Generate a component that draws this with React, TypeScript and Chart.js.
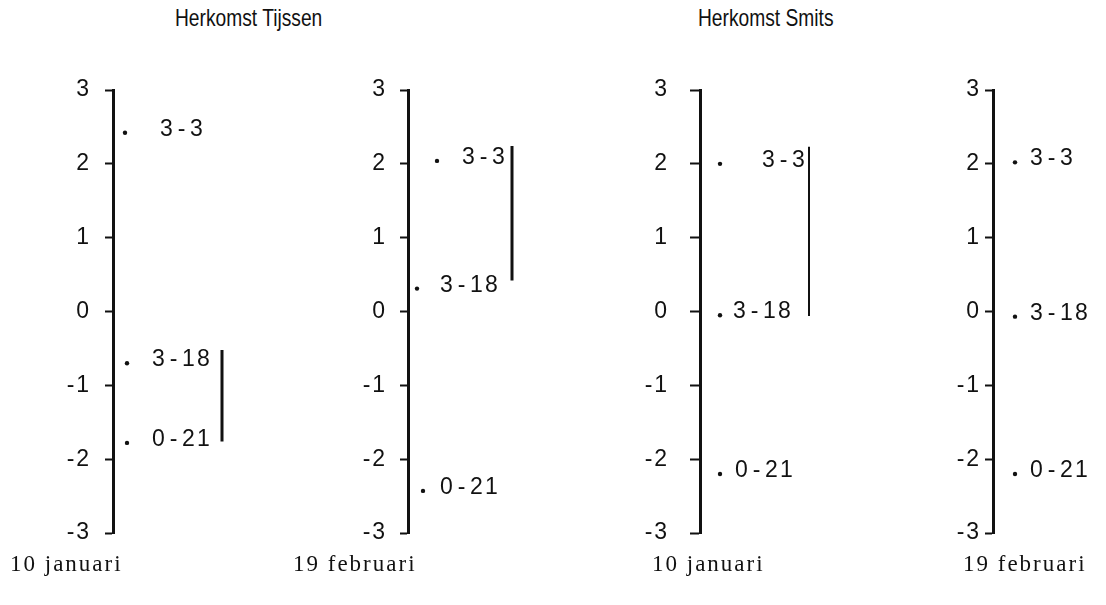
import React, { useEffect, useRef } from 'react';
import { Chart, registerables } from 'chart.js';

Chart.register(...registerables);

// Groups (herkomst-behandeling) and their mean scores per sampling date
const groups = ['3-3', '3-18', '0-21'];
const yTicks = [-3, -2, -1, 0, 1, 2, 3];
const tijssenJanuari = [2.42, -0.7, -1.78];
const tijssenFebruari = [2.04, 0.31, -2.43];
const smitsJanuari = [2.0, -0.05, -2.2];
const smitsFebruari = [2.02, -0.07, -2.2];

// Range covered by the bar that joins groups not differing significantly
const tijssenJanuariBar = [-0.52, -1.76];
const tijssenFebruariBar = [2.24, 0.42];
const smitsJanuariBar = [2.23, -0.06];
const smitsFebruariBar: number[] = [];

const dateLabels = ['10 januari', '19 februari', '10 januari', '19 februari'];
const herkomstTitles = ['Herkomst Tijssen', 'Herkomst Smits'];

const INK = '#111111';
const AXIS_W = 60;
const CANVAS_TOP = 60;
const CANVAS_H = 500;
const CELL = 15; // typewriter character pitch for the group labels

type PanelCfg = {
  values: number[];
  bar: number[];
  date: string;
  axisX: number;
  tickLen: number;
  tickPad: number;
  dotX: number[];
  labelX: number[];
  barX: number;
  barWidth: number;
  dateX: number;
};

const panels: PanelCfg[] = [
  { values: tijssenJanuari, bar: tijssenJanuariBar, date: dateLabels[0], axisX: 113, tickLen: 8, tickPad: 16, dotX: [12, 14, 14], labelX: [46, 38, 38], barX: 109, barWidth: 3, dateX: 10 },
  { values: tijssenFebruari, bar: tijssenFebruariBar, date: dateLabels[1], axisX: 408, tickLen: 8, tickPad: 15, dotX: [29, 9, 15], labelX: [53, 31, 31], barX: 104, barWidth: 3, dateX: 293 },
  { values: smitsJanuari, bar: smitsJanuariBar, date: dateLabels[2], axisX: 700, tickLen: 10, tickPad: 23, dotX: [20, 20, 20], labelX: [61, 32, 34], barX: 109, barWidth: 2, dateX: 652 },
  { values: smitsFebruari, bar: smitsFebruariBar, date: dateLabels[3], axisX: 993, tickLen: 8, tickPad: 6, dotX: [22, 22, 22], labelX: [36, 36, 36], barX: 105, barWidth: 2, dateX: 963 },
];

// Writes the group name next to each mean, one character per fixed cell
const pointLabels = {
  id: 'pointLabels',
  afterDatasetsDraw(chart: any, _args: any, opts: any) {
    const { ctx } = chart;
    const xScale = chart.scales.x;
    const meta = chart.getDatasetMeta(0);
    ctx.save();
    ctx.fillStyle = INK;
    ctx.font = '23px "Liberation Sans"';
    ctx.textAlign = 'center';
    ctx.textBaseline = 'alphabetic';
    meta.data.forEach((pt: any, i: number) => {
      const left = xScale.getPixelForValue(opts.labelX[i]);
      Array.from(groups[i]).forEach((ch, k) => {
        ctx.fillText(ch, left + CELL * k + CELL / 2, pt.y + 3);
      });
    });
    ctx.restore();
  },
};

function Panel({ cfg }: { cfg: PanelCfg }) {
  const ref = useRef<HTMLCanvasElement | null>(null);
  const left = cfg.axisX - AXIS_W;
  const width = Math.min(200, 1106 - left);

  useEffect(() => {
    if (!ref.current) return;
    const datasets: any[] = [
      {
        type: 'scatter',
        data: cfg.values.map((v, i) => ({ x: cfg.dotX[i], y: v })),
        pointRadius: 2.2,
        pointBackgroundColor: INK,
        pointBorderWidth: 0,
        showLine: false,
      },
    ];
    if (cfg.bar.length) {
      datasets.push({
        type: 'line',
        data: cfg.bar.map((v) => ({ x: cfg.barX, y: v })),
        borderColor: INK,
        borderWidth: cfg.barWidth,
        borderCapStyle: 'butt',
        pointRadius: 0,
        fill: false,
      });
    }
    const chart = new Chart(ref.current, {
      type: 'scatter',
      data: { datasets },
      options: {
        animation: false,
        responsive: false,
        events: [],
        layout: { autoPadding: false, padding: { top: 30, bottom: 27, left: 0, right: 0 } },
        plugins: {
          legend: { display: false },
          tooltip: { enabled: false },
          pointLabels: { labelX: cfg.labelX },
        } as any,
        scales: {
          x: { type: 'linear', min: 0, max: width - AXIS_W, display: false },
          y: {
            type: 'linear',
            min: -3,
            max: 3,
            afterFit: (s: any) => {
              // fixed axis width; the outer labels may overhang the plot edges
              s.width = AXIS_W;
              s.paddingTop = 0;
              s.paddingBottom = 0;
            },
            afterBuildTicks: (s: any) => {
              s.ticks = yTicks.map((v) => ({ value: v }));
            },
            ticks: {
              padding: cfg.tickPad,
              color: INK,
              font: { family: 'Liberation Sans', size: 23 },
              callback: (v: any) => (Number(v) < 0 ? '-\u200A' + Math.abs(Number(v)) : String(v)),
            },
            grid: {
              drawOnChartArea: false,
              drawTicks: true,
              tickLength: cfg.tickLen,
              tickWidth: 2,
              tickColor: INK,
              color: INK,
            },
            border: { display: true, width: 3, color: INK },
          },
        },
      },
      plugins: [pointLabels],
    } as any);
    return () => chart.destroy();
  }, []);

  return (
    <>
      <canvas
        ref={ref}
        width={width}
        height={CANVAS_H}
        style={{ position: 'absolute', left, top: CANVAS_TOP, width, height: CANVAS_H }}
      />
      <div
        style={{
          position: 'absolute',
          left: cfg.dateX,
          top: 551,
          font: '23px "Liberation Serif"',
          letterSpacing: '2px',
          lineHeight: '26px',
          color: INK,
          whiteSpace: 'nowrap',
        }}
      >
        {cfg.date}
      </div>
    </>
  );
}

export default function App() {
  const titleStyle = (x: number): React.CSSProperties => ({
    position: 'absolute',
    left: x,
    top: 6,
    font: '24px "Liberation Sans"',
    lineHeight: '24px',
    color: INK,
    whiteSpace: 'nowrap',
    transform: 'scaleX(0.8)',
    transformOrigin: 'left top',
  });
  return (
    <div style={{ position: 'absolute', left: 0, top: 0, width: 1106, height: 605, background: '#fff', overflow: 'hidden' }}>
      <div style={titleStyle(175)}>{herkomstTitles[0]}</div>
      <div style={titleStyle(698)}>{herkomstTitles[1]}</div>
      {panels.map((p, i) => (
        <Panel key={i} cfg={p} />
      ))}
    </div>
  );
}
